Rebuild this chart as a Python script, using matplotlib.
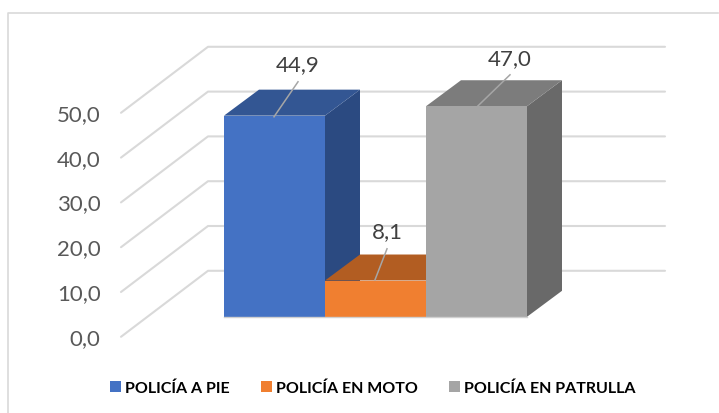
import matplotlib
matplotlib.use('Agg')
import matplotlib.pyplot as plt
from matplotlib.patches import Patch, Polygon

categories = ['POLICÍA A PIE', 'POLICÍA EN MOTO', 'POLICÍA EN PATRULLA']
values = [44.9, 8.1, 47.0]
value_labels = ['44,9', '8,1', '47,0']
grid_values = [0, 10, 20, 30, 40, 50]
grid_labels = ['0,0', '10,0', '20,0', '30,0', '40,0', '50,0']

front_colors = ['#4472C4', '#F07F30', '#A5A5A5']
top_colors = ['#335693', '#B25D22', '#7C7C7C']
side_colors = ['#2B4A81', '#A3561F', '#696969']

# pixel scale of the chart
W, H = 719, 414
PX_CAT = 101.0
PX_VAL = 4.48
X0 = 224.0 + 0.5 * PX_CAT   # pixel of category 0
Y0 = 317.0                  # pixel of value 0
SHIFT = 0.8                 # rows come out a bit high otherwise


def dx(px):
    return px / PX_CAT


def dy(px):
    return px / PX_VAL


fig = plt.figure(figsize=(W / 100, H / 100), dpi=100)
plt.rcParams['font.family'] = 'Lato'
ax = fig.add_axes([0, 0, 1, 1])
ax.set_xlim(-X0 / PX_CAT, (W - X0) / PX_CAT)
ax.set_ylim((Y0 + SHIFT - H) / PX_VAL, (Y0 + SHIFT) / PX_VAL)
ax.axis('off')

grid_c = '#D9D9D9'
for v, lab in zip(grid_values, grid_labels):
    # walls: slanted side, then back wall
    xs = [dx(121 - X0), dx(208 - X0), dx(665 - X0)]
    ys = [v + dy(Y0 - 337), v + dy(Y0 - 271), v + dy(Y0 - 271)]
    ax.plot(xs, ys, color=grid_c, lw=1.5, solid_capstyle='round', zorder=1)
    ax.text(dx(100.5 - X0), v + dy(Y0 - 338), lab, ha='right', va='center',
            fontsize=16, color='#595959')

depth_x = dx(35)
depth_y = dy(26)
bar_w = 1.0
for i, val in enumerate(values):
    l, r = i - bar_w / 2, i + bar_w / 2
    ax.add_patch(Polygon([(r, 0), (r + depth_x, depth_y), (r + depth_x, val + depth_y), (r, val)],
                         fc=side_colors[i], ec='none', zorder=2 + i))
    ax.add_patch(Polygon([(l, val), (r, val), (r + depth_x, val + depth_y), (l + depth_x, val + depth_y)],
                         fc=top_colors[i], ec='none', zorder=2 + i))
    ax.bar(i, val, width=bar_w, color=front_colors[i], zorder=2 + i)

# bars' thin light outline at the foot
ax.plot([-0.5, 2.5], [0, 0], color='#D0D0D0', lw=1, zorder=6)

# leader lines and data labels, offsets in pixels
leader_start = [(274, 117), (375, 280), (477, 107)]
leader_end = [(298, 82), (387, 249), (510, 75)]
label_pos = [(298, 64), (387, 231), (510, 58)]
for s, e, p, lab in zip(leader_start, leader_end, label_pos, value_labels):
    ax.plot([dx(s[0] - X0), dx(e[0] - X0)], [dy(Y0 - s[1]), dy(Y0 - e[1])],
            color='#A6A6A6', lw=1.1, zorder=7)
    ax.text(dx(p[0] - X0), dy(Y0 - p[1]), lab, ha='center', va='center',
            fontsize=16, color='#404040', zorder=8)

handles = [Patch(fc=c, ec='none', label=n) for c, n in zip(front_colors, categories)]
ax.legend(handles=handles, ncol=3, loc='center left', bbox_to_anchor=(110 / W, 1 - 388.5 / H),
          frameon=False, borderpad=0, borderaxespad=0, handlelength=0.69, handleheight=0.69,
          handletextpad=0.25, columnspacing=1.95,
          prop={'family': 'Lato', 'weight': 'bold', 'size': 11.5}, labelcolor='#000000')

# chart frame
ax.plot([dx(7.5 - X0), dx(7.5 - X0), dx(718 - X0)], [dy(Y0 - 414), dy(Y0 - 13), dy(Y0 - 13)],
        color=grid_c, lw=1.2, zorder=0)

fig.savefig('out.png', dpi=100)
